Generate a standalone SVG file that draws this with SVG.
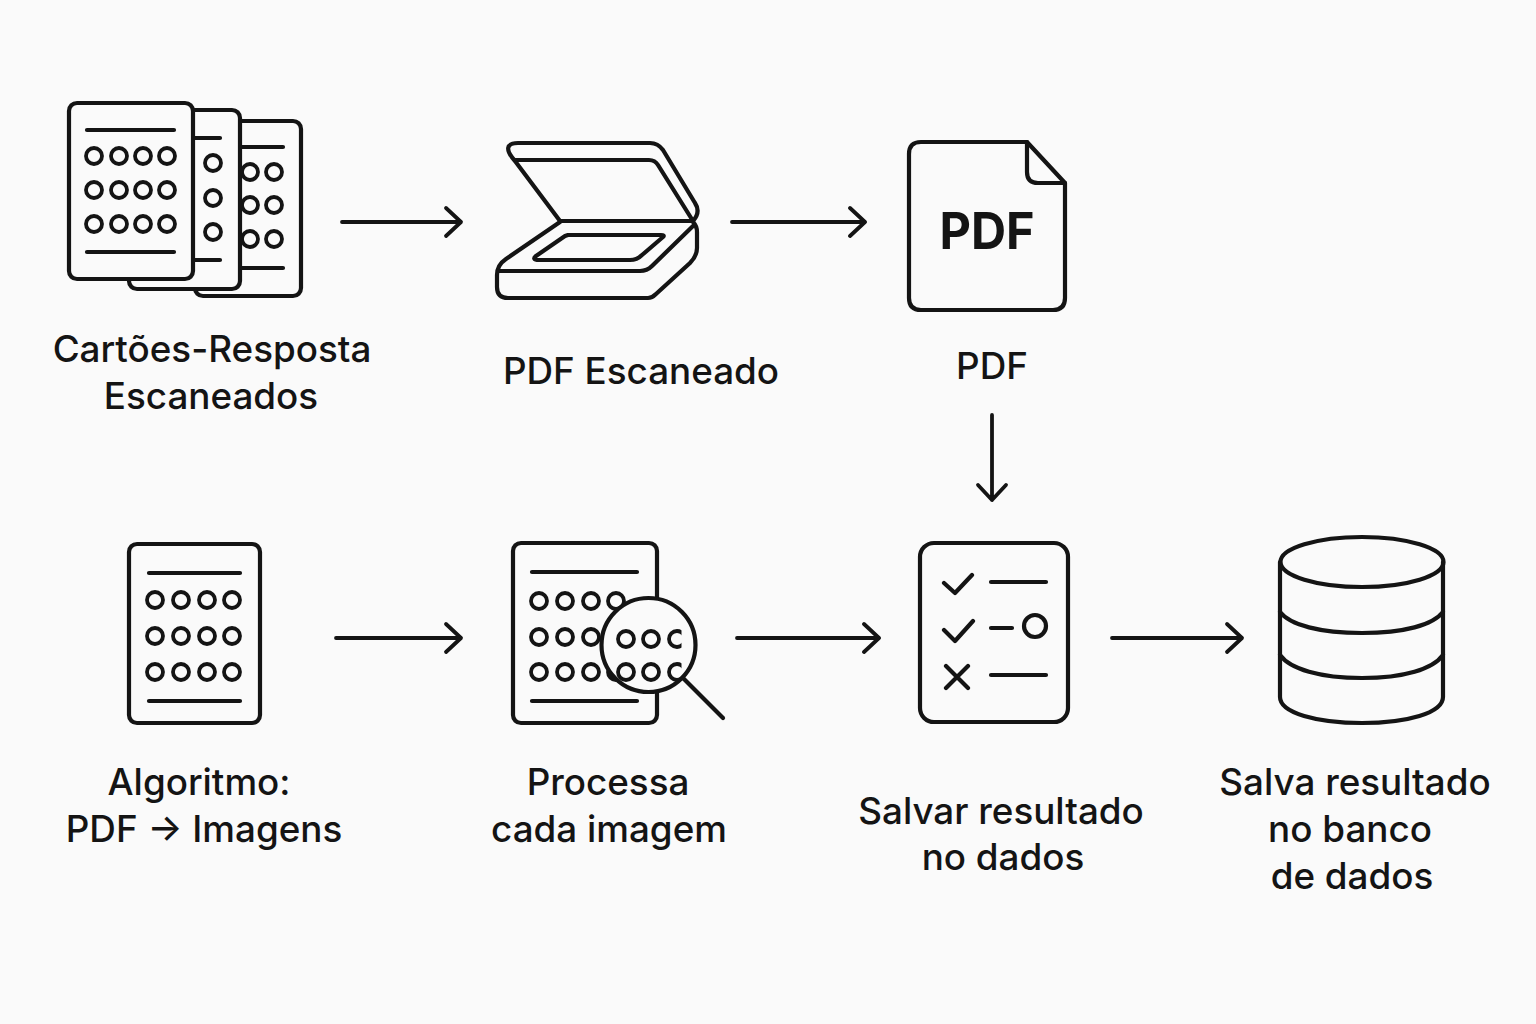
<svg xmlns="http://www.w3.org/2000/svg" width="1536" height="1024" viewBox="0 0 1536 1024">
<style>
.i{fill:none;stroke:#141414;stroke-width:4.2;stroke-linecap:round;stroke-linejoin:round}
.o{fill:none;stroke:#141414;stroke-width:3.8}
.p{fill:#fafafa;stroke:#141414;stroke-width:4.2;stroke-linejoin:round}
.c{fill:none;stroke:#141414;stroke-width:3.8;stroke-linecap:round;stroke-linejoin:round}
.t{font-family:"Inter","Noto Sans",sans-serif;font-size:36.8px;font-weight:500;fill:#141414;text-anchor:middle;stroke:none}
</style>
<defs>
<clipPath id="lensclip"><rect x="600" y="595" width="81.500" height="100"/></clipPath>
</defs>
<rect width="1536" height="1024" fill="#fafafa"/>
<g id="connectors" class="c">
<path d="M342 222H461M446 208L461 222L446 236"/>
<path d="M732 222H865M850 208L865 222L850 236"/>
<path d="M992 415V500M978 485L992 500L1006 485"/>
<path d="M336 638H461M446 624L461 638L446 652"/>
<path d="M737 638H879M864 624L879 638L864 652"/>
<path d="M1112 638H1242M1227 624L1242 638L1227 652"/>
</g>
<g id="node-cards">
<rect class="p" x="195" y="121" width="106" height="175" rx="8"/>
<path class="i" d="M240 147H283M240 268H283"/>
<g class="o"><circle cx="250" cy="172" r="8"/><circle cx="274" cy="172" r="8"/><circle cx="250" cy="205" r="8"/><circle cx="274" cy="205" r="8"/><circle cx="250" cy="239" r="8"/><circle cx="274" cy="239" r="8"/></g>
<rect class="p" x="129" y="110" width="111" height="179" rx="8"/>
<path class="i" d="M190 138H220M190 260H220"/>
<g class="o"><circle cx="213" cy="163" r="8"/><circle cx="213" cy="198" r="8"/><circle cx="213" cy="232" r="8"/></g>
<rect class="p" x="69" y="103" width="124" height="176" rx="8"/>
<path class="i" d="M87 130H174M87 252H174"/>
<g class="o"><circle cx="94" cy="156" r="8"/><circle cx="119" cy="156" r="8"/><circle cx="143" cy="156" r="8"/><circle cx="167" cy="156" r="8"/><circle cx="94" cy="190" r="8"/><circle cx="119" cy="190" r="8"/><circle cx="143" cy="190" r="8"/><circle cx="167" cy="190" r="8"/><circle cx="94" cy="224" r="8"/><circle cx="119" cy="224" r="8"/><circle cx="143" cy="224" r="8"/><circle cx="167" cy="224" r="8"/></g>
<text class="t" x="212" y="362">Cartões-Resposta</text>
<text class="t" x="211" y="409">Escaneados</text>
</g>
<g id="node-scanner" class="i">
<path d="M560 221L515 161C505 150 506 143 518 143H650Q658 143 663 150L695 203Q701 212 693 221"/>
<path d="M515 160H649Q655 160 658 165L693 221"/>
<path d="M560 221H693"/>
<path d="M560 222L506 259Q497 265 497 275V287Q497 298 508 298H648Q652 298 656 294L690 263Q697 256 697 248V232Q697 226 693 222"/>
<path d="M498 271H640Q647 271 652 266L693 226"/>
<path d="M568 235H661Q665 235 663 237L642 255Q637 260 630 260H537Q532 259 536 256L565 236Z"/>
<text x="641" y="384" class="t">PDF Escaneado</text>
</g>
<g id="node-pdf">
<path class="i" d="M1027 142H921Q909 142 909 154V298Q909 310 921 310H1053Q1065 310 1065 298V183Z"/>
<path class="i" d="M1027 142V172Q1027 183 1038 183H1065"/>
<text x="987" y="249" font-family="Inter,'Noto Sans',sans-serif" font-weight="700" font-size="51" fill="#141414" text-anchor="middle" textLength="95" lengthAdjust="spacingAndGlyphs">PDF</text>
<text x="992" y="379" class="t">PDF</text>
</g>
<g id="node-algoritmo">
<rect class="i" x="129" y="544" width="131" height="179" rx="8"/>
<path class="i" d="M149 573H240M149 701H240"/>
<g class="o"><circle cx="155" cy="600" r="8"/><circle cx="181" cy="600" r="8"/><circle cx="207" cy="600" r="8"/><circle cx="232" cy="600" r="8"/><circle cx="155" cy="636" r="8"/><circle cx="181" cy="636" r="8"/><circle cx="207" cy="636" r="8"/><circle cx="232" cy="636" r="8"/><circle cx="155" cy="672" r="8"/><circle cx="181" cy="672" r="8"/><circle cx="207" cy="672" r="8"/><circle cx="232" cy="672" r="8"/></g>
<text class="t" x="199" y="795">Algoritmo:</text>
<text class="t" x="204" y="842">PDF → Imagens</text>
</g>
<g id="node-processa">
<rect class="i" x="513" y="543" width="144" height="180" rx="8"/>
<path class="i" d="M532 572H637M532 701H637"/>
<g class="o"><circle cx="539" cy="601" r="8"/><circle cx="565" cy="601" r="8"/><circle cx="591" cy="601" r="8"/><circle cx="616" cy="601" r="8"/><circle cx="539" cy="637" r="8"/><circle cx="565" cy="637" r="8"/><circle cx="591" cy="637" r="8"/><circle cx="539" cy="672" r="8"/><circle cx="565" cy="672" r="8"/><circle cx="591" cy="672" r="8"/><circle cx="616" cy="672" r="8"/></g>
<circle class="p" cx="648.500" cy="645" r="47"/>
<g class="o" clip-path="url(#lensclip)"><circle cx="626" cy="639" r="8"/><circle cx="651" cy="639" r="8"/><circle cx="677" cy="639" r="8"/><circle cx="626" cy="672" r="8"/><circle cx="651" cy="672" r="8"/><circle cx="677" cy="672" r="8"/></g>
<path class="i" d="M683 678L723 718"/>
<text class="t" x="608" y="795">Processa</text>
<text class="t" x="609" y="842">cada imagem</text>
</g>
<g id="node-salvar">
<rect class="i" x="920" y="543" width="148" height="179" rx="14"/>
<path class="i" d="M944 583L955 593L972 575M944 630L955 641L973 621M946 666L968 688M968 666L946 688M991 582H1046M991 628H1012M991 675H1046"/>
<circle class="i" cx="1035" cy="626" r="11"/>
<text class="t" x="1001" y="824">Salvar resultado</text>
<text class="t" x="1003" y="870">no dados</text>
</g>
<g id="node-banco">
<ellipse class="i" cx="1362" cy="562" rx="81.500" ry="25"/>
<path class="i" d="M1280 562V697C1280 713 1317 723 1362 723S1443 713 1443 697V562"/>
<path class="i" d="M1280 612C1290 625 1320 633 1362 633S1433 625 1443 612M1280 655C1290 669 1320 678 1362 678S1433 669 1443 655"/>
<text class="t" x="1355" y="795">Salva resultado</text>
<text class="t" x="1350" y="842">no banco</text>
<text class="t" x="1352" y="889">de dados</text>
</g>
</svg>
